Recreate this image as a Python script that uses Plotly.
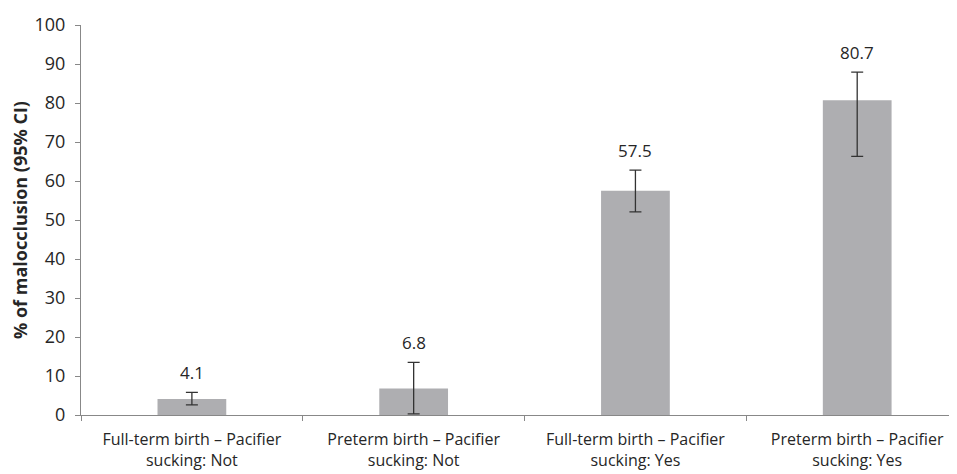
import plotly.graph_objects as go

categories = ["Full-term birth – Pacifier<br>sucking: Not",
              "Preterm birth – Pacifier<br>sucking: Not",
              "Full-term birth – Pacifier<br>sucking: Yes",
              "Preterm birth – Pacifier<br>sucking: Yes"]
values = [4.1, 6.8, 57.5, 80.7]
ci_low = [2.6, 0.3, 52.1, 66.3]
ci_high = [5.8, 13.5, 62.8, 87.9]
labels = ["4.1", "6.8", "57.5", "80.7"]

err_plus = [h - v for h, v in zip(ci_high, values)]
err_minus = [v - l for v, l in zip(values, ci_low)]

font_fam = "Open Sans, Noto Sans, Liberation Sans, sans-serif"

fig = go.Figure(go.Bar(
    x=categories, y=values, width=0.31,
    marker=dict(color="#AEAEB1", line=dict(width=0)),
    error_y=dict(type="data", symmetric=False, array=err_plus, arrayminus=err_minus,
                 color="#333333", thickness=1.3, width=6),
))

for c, h, t in zip(categories, ci_high, labels):
    fig.add_annotation(x=c, y=h, text=t, showarrow=False, yanchor="bottom",
                       yshift=6, font=dict(size=17, color="#262626", family=font_fam))

fig.update_layout(
    width=949, height=466,
    margin=dict(l=73, r=0, t=17, b=59),
    paper_bgcolor="white", plot_bgcolor="white",
    showlegend=False,
    font=dict(family=font_fam, color="#262626"),
    xaxis=dict(range=[-0.5, 3.45], showline=True, linecolor="#888888", linewidth=1,
               ticks="outside", tickson="boundaries", ticklen=5, tickcolor="#888888",
               ticklabelstandoff=10,
               tickfont=dict(size=16, color="#262626"), showgrid=False, automargin=False),
    yaxis=dict(range=[0, 100], dtick=10, showline=True, linecolor="#888888", linewidth=1,
               ticks="outside", ticklen=5, tickcolor="#888888", showgrid=False,
               zeroline=False, automargin=False, ticklabelstandoff=6,
               tickfont=dict(size=18, color="#262626"),
               title=dict(text="<b>% of malocclusion (95% CI)</b>", font=dict(size=18, color="#262626"),
                          standoff=2)),
)

fig.write_html("out.html")
